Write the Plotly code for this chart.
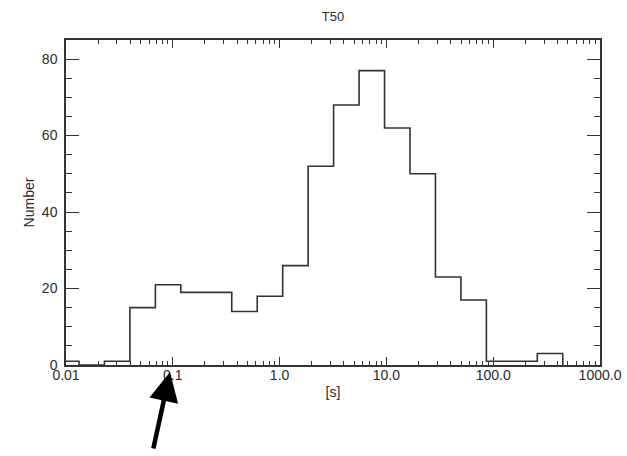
import plotly.graph_objects as go

# Bin edges (seconds) (log-spaced histogram bins)
bin_edges = [0.00764, 0.01323, 0.02291, 0.03968, 0.0687, 0.1189, 0.2059, 0.3565,
             0.6173, 1.069, 1.851, 3.204, 5.548, 9.605, 16.63, 28.79, 49.85,
             86.32, 149.4, 258.8, 448.1]
# Counts per bin
counts = [1, 0, 1, 15, 21, 19, 19, 14, 18, 26, 52, 68, 77, 62, 50, 23, 17, 1, 1, 3]

x_major = [0.01, 0.1, 1, 10, 100, 1000]
x_labels = ["0.01", "0.1", "1.0", "10.0", "100.0", "1000.0"]
x_minor = [m * d for d in [0.01, 0.1, 1, 10, 100] for m in range(2, 10)]

line_col = "#333333"
txt_col = "#2a2a2a"
font_fam = "Liberation Sans, Arial, sans-serif"

fig = go.Figure()
fig.add_trace(go.Scatter(
    x=bin_edges, y=counts + [0], mode="lines", line_shape="hv",
    line=dict(color=line_col, width=1.6), showlegend=False, cliponaxis=True))

fig.update_layout(
    width=627, height=456,
    margin=dict(l=66, r=27, t=40, b=91, autoexpand=False),
    paper_bgcolor="white", plot_bgcolor="white",
    font=dict(family=font_fam, size=14, color=txt_col),
    title=dict(text="T50", x=0.5, xanchor="center", xref="paper", y=0.963,
               yanchor="middle", font=dict(size=13, color=txt_col)),
    xaxis=dict(type="log", range=[-2, 3], showgrid=False, zeroline=False,
               automargin=False, ticklabelstandoff=-4,
               showline=True, linecolor=line_col, linewidth=1.5, mirror="ticks",
               ticks="inside", ticklen=8, tickwidth=1.2, tickcolor=line_col,
               tickvals=x_major, ticktext=x_labels, tickfont=dict(size=14),
               minor=dict(tickvals=x_minor, ticks="inside", ticklen=4,
                          tickwidth=1, tickcolor=line_col, showgrid=False),
               title=dict(text="[s]", standoff=6, font=dict(size=14))),
    yaxis=dict(range=[0, 85], showgrid=False, zeroline=False,
               automargin=False, ticklabelstandoff=4,
               showline=True, linecolor=line_col, linewidth=1.5, mirror="ticks",
               ticks="inside", ticklen=13, tickwidth=1.2, tickcolor=line_col,
               dtick=20, tick0=0, tickfont=dict(size=14),
               minor=dict(dtick=5, ticks="inside", ticklen=6, tickwidth=1,
                          tickcolor=line_col, showgrid=False),
               title=dict(text="Number", standoff=4, font=dict(size=14))),
)

fig.add_annotation(
    x=-1.026, xref="x", y=-0.0215, yref="paper",
    ax=-17, ay=78, axref="pixel", ayref="pixel",
    showarrow=True, arrowhead=2, arrowsize=1.3, arrowwidth=4.5, arrowcolor="black",
    text="")

fig.write_html("out.html", config={"displayModeBar": False},
               post_script="document.body.style.margin='0';")
